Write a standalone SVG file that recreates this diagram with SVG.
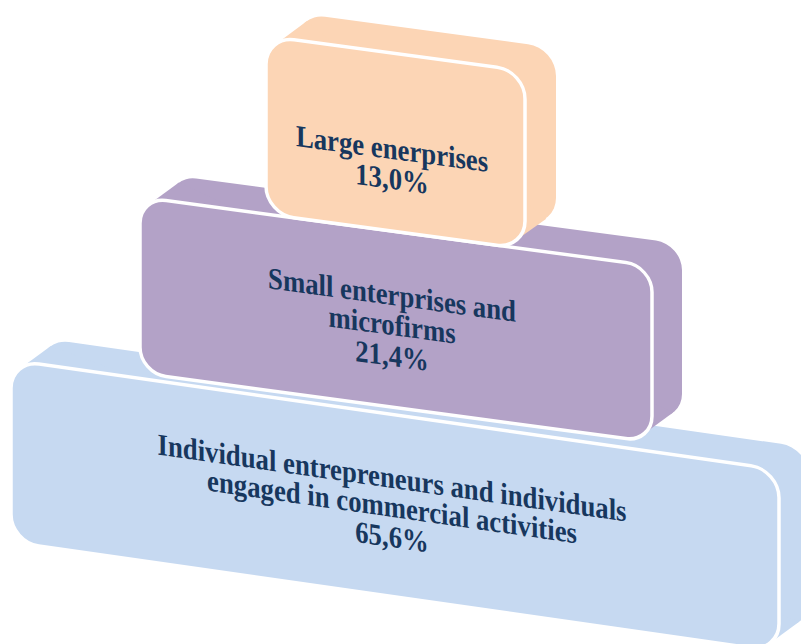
<svg xmlns="http://www.w3.org/2000/svg" width="801" height="644" viewBox="0 0 801 644">
<style>
.t{font-family:"Liberation Serif","Times New Roman",serif;font-weight:bold;font-size:27px;fill:#17375E;text-anchor:middle}
.f{stroke:#FFFFFF;stroke-width:3.5}
.blue{fill:#C6D9F1}
.purple{fill:#B3A2C7}
.peach{fill:#FCD5B5}
</style>
<rect width="801" height="644" fill="#FFFFFF"/>
<g id="connectors"></g>
<g id="block-individual" transform="matrix(1,0.143,0,1,11,360)">
  <rect class="blue" x="30" y="-26.3" width="768" height="182" rx="28"/>
  <polygon class="blue" points="9.5,6.9 39.5,-19.4 788.5,148.8 758.5,175.1"/>
  <rect class="blue f" x="0" y="0" width="768" height="182" rx="28"/>
  <text class="t" transform="translate(381,73.5) scale(0.99,1.13)">Individual entrepreneurs and individuals</text>
  <text class="t" transform="translate(381,102.5) scale(0.99,1.13)">engaged in commercial activities</text>
  <text class="t" transform="translate(381,132.5) scale(0.99,1.13)">65,6%</text>
</g>
<g id="block-small" transform="matrix(1,0.135,0,1,140,197)">
  <rect class="purple" x="30" y="-26.05" width="512" height="176" rx="26"/>
  <polygon class="purple" points="8.9,6.4 38.9,-19.65 533.1,143.55 503.1,169.6"/>
  <rect class="purple f" x="0" y="0" width="512" height="176" rx="26"/>
  <text class="t" transform="translate(252,74) scale(0.99,1.13)">Small enterprises and</text>
  <text class="t" transform="translate(252,104) scale(0.99,1.13)">microfirms</text>
  <text class="t" transform="translate(252,135) scale(0.99,1.13)">21,4%</text>
</g>
<g id="block-large" transform="matrix(1,0.135,0,1,266,36)">
  <rect class="peach" x="31" y="-27.2" width="259" height="178" rx="28"/>
  <polygon class="peach" points="9.7,6.9 40.7,-20.3 280.3,144.9 249.3,171.1"/>
  <rect class="peach f" x="0" y="0" width="259" height="178" rx="28"/>
  <text class="t" transform="translate(126,106) scale(0.99,1.13)">Large enerprises</text>
  <text class="t" transform="translate(126,136) scale(0.99,1.13)">13,0%</text>
</g>
</svg>
